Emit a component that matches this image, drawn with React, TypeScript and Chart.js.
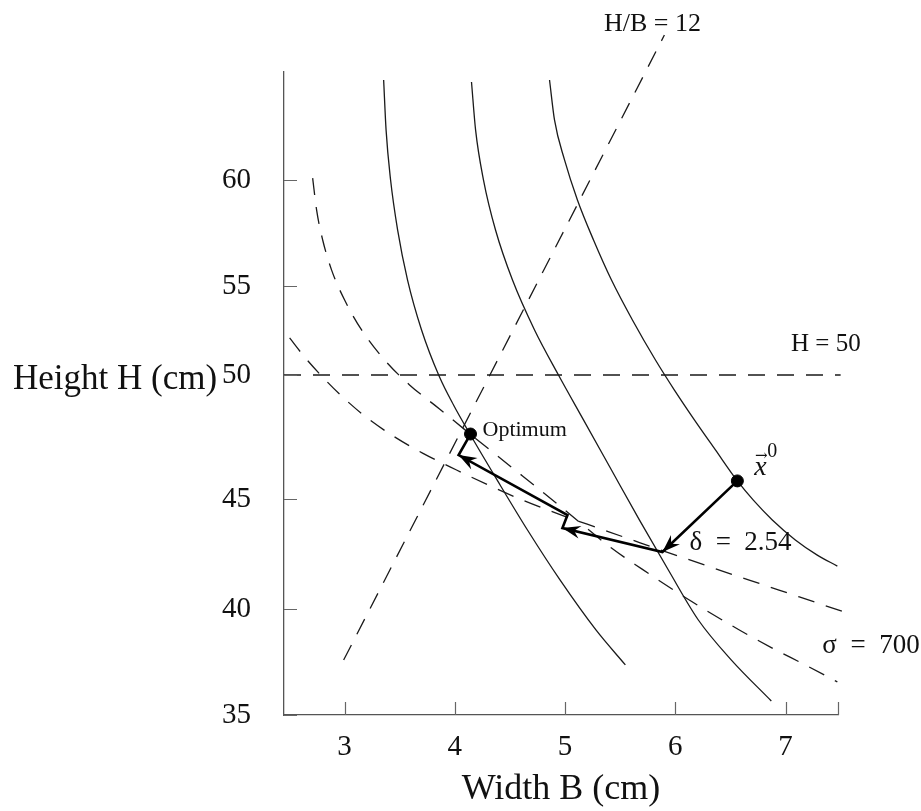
import React, { useEffect, useRef } from 'react';
import { Chart, registerables, LinearScale } from 'chart.js';

// ---------- axes ----------
const X_MIN = 2.45;
const X_MAX = 7.476;
const X_TICKS = [3, 4, 5, 6, 7];
const Y_MIN = 35;
const Y_MAX = 65;
const Y_TICKS = [35, 40, 45, 50, 55, 60];
// the printed height axis is not evenly spaced: knot values and their share of the axis length
const Y_KNOTS = [35, 40, 45, 50, 55, 60, 65];
const Y_KNOT_FRAC = [0, 0.1649, 0.3359, 0.5288, 0.6672, 0.832, 1];

// ---------- solid contours ----------
const C1_B = [3.354, 3.376, 3.417, 3.481, 3.571, 3.698, 3.857, 3.988, 4.142, 4.383, 4.659, 4.954, 5.28, 5.547];
const C1_H = [64.63, 62.32, 60.0, 57.64, 55.28, 52.53, 49.96, 48.79, 47.58, 45.77, 43.59, 41.32, 39.01, 37.36];

const C2_B = [4.151, 4.188, 4.26, 4.369, 4.523, 4.723, 4.94, 5.167, 5.421, 5.674, 5.937, 6.209, 6.509, 6.871];
const C2_H = [64.54, 62.32, 60.0, 57.64, 55.28, 52.53, 50.0, 48.19, 46.17, 44.05, 41.77, 39.48, 37.59, 35.66];

const C3_B = [4.859, 4.904, 4.995, 5.112, 5.258, 5.421, 5.611, 5.82, 5.992, 6.173, 6.364, 6.563, 6.708, 6.88, 7.089, 7.288, 7.47];
const C3_H = [64.63, 62.78, 60.93, 59.06, 57.17, 55.28, 53.09, 50.84, 49.39, 48.19, 46.98, 45.73, 44.95, 44.05, 43.14, 42.45, 41.95];

// ---------- dashed constraint curves ----------
const D1_B = [2.71, 2.746, 2.801, 2.882, 3.0, 3.154, 3.363, 3.589, 3.861, 4.133, 4.36, 4.614, 4.949, 5.421, 5.702, 6.019, 6.273, 6.581, 6.871, 7.179, 7.47];
const D1_H = [60.09, 58.58, 57.17, 55.75, 54.21, 52.53, 50.84, 49.6, 48.63, 47.64, 46.83, 45.93, 44.7, 42.77, 41.8, 40.75, 39.95, 39.01, 38.18, 37.36, 36.56];

const D2_B = [2.501, 2.637, 2.791, 2.973, 3.181, 3.426, 3.707, 4.015, 4.315, 4.614, 4.967, 5.312, 5.675, 6.037, 6.4, 6.762, 7.125, 7.56];
const D2_H = [52.08, 51.01, 49.96, 49.15, 48.35, 47.58, 46.85, 46.17, 45.54, 44.95, 44.27, 43.66, 43.02, 42.39, 41.77, 41.16, 40.55, 39.81];

const HB_B = [2.991, 5.901];
const HB_H = [37.59, 66.71];

const H50_B = [2.45, 7.5];
const H50_H = [50, 50];

// ---------- search path ----------
const PATH_B = [6.563, 5.883, 4.976, 5.022, 4.034, 4.142];
const PATH_H = [45.73, 42.59, 43.68, 44.27, 46.77, 47.62];
const PATH_TIPS = [1, 2, 4];

const OPT_B = 4.142;
const OPT_H = 47.62;
const X0_B = 6.563;
const X0_H = 45.73;

const SERIF = '"Liberation Serif", "Times New Roman", serif';

function toFrac(v: number): number {
  const k = Y_KNOTS, f = Y_KNOT_FRAC;
  let i = 0;
  if (v >= k[k.length - 1]) i = k.length - 2;
  else if (v > k[0]) { while (v > k[i + 1]) i++; }
  return f[i] + ((v - k[i]) * (f[i + 1] - f[i])) / (k[i + 1] - k[i]);
}
function fromFrac(d: number): number {
  const k = Y_KNOTS, f = Y_KNOT_FRAC;
  let i = 0;
  if (d >= f[f.length - 1]) i = f.length - 2;
  else if (d > f[0]) { while (d > f[i + 1]) i++; }
  return k[i] + ((d - f[i]) * (k[i + 1] - k[i])) / (f[i + 1] - f[i]);
}

class PiecewiseScale extends LinearScale {
  static id = 'piecewise';
  static defaults = {};
  getPixelForValue(value: any) {
    if (value === null || value === undefined || isNaN(value)) return NaN;
    return this.getPixelForDecimal(toFrac(+value));
  }
  getValueForPixel(pixel: number) {
    return fromFrac(this.getDecimalForPixel(pixel));
  }
}

Chart.register(...registerables, PiecewiseScale as any);

const zip = (b: number[], h: number[]) => b.map((x, i) => ({ x, y: h[i] }));

const tickPlugin = {
  id: 'inwardTicks',
  afterDraw(chart: any) {
    const { ctx, chartArea: a, scales } = chart;
    const xs = scales.x, ys = scales.y;
    ctx.save();
    ctx.strokeStyle = '#666';
    ctx.lineWidth = 1.2;
    ctx.beginPath();
    [...X_TICKS, X_MAX].forEach((v) => {
      const px = Math.round(xs.getPixelForValue(v)) + 0.5;
      ctx.moveTo(px, a.bottom);
      ctx.lineTo(px, a.bottom - 13);
    });
    Y_TICKS.forEach((v) => {
      const py = Math.round(ys.getPixelForValue(v)) + 0.5;
      ctx.moveTo(a.left, py);
      ctx.lineTo(a.left + 13, py);
    });
    ctx.stroke();
    ctx.restore();
  },
};

const arrowPlugin = {
  id: 'arrowHeads',
  afterDatasetsDraw(chart: any) {
    const idx = chart.data.datasets.findIndex((d: any) => d.label === 'path');
    if (idx < 0) return;
    const pts = chart.getDatasetMeta(idx).data;
    const { ctx } = chart;
    ctx.save();
    ctx.fillStyle = '#000';
    PATH_TIPS.forEach((i) => {
      const p = pts[i], q = pts[i - 1];
      const ang = Math.atan2(p.y - q.y, p.x - q.x);
      ctx.save();
      ctx.translate(p.x, p.y);
      ctx.rotate(ang);
      ctx.beginPath();
      ctx.moveTo(0, 0);
      ctx.lineTo(-18, -6.5);
      ctx.lineTo(-12, 0);
      ctx.lineTo(-18, 6.5);
      ctx.closePath();
      ctx.fill();
      ctx.restore();
    });
    ctx.restore();
  },
};

const labelPlugin = {
  id: 'labels',
  afterDraw(chart: any) {
    const { ctx, scales } = chart;
    const xs = scales.x, ys = scales.y;
    const P = (b: number, h: number) => [xs.getPixelForValue(b), ys.getPixelForValue(h)];
    ctx.save();
    ctx.fillStyle = '#111';
    ctx.textBaseline = 'alphabetic';

    // y-axis title (horizontal)
    ctx.font = `35px ${SERIF}`;
    ctx.textAlign = 'left';
    ctx.fillText('Height H (cm)', 13, 389);

    // Optimum
    const [ox, oy] = P(OPT_B, OPT_H);
    ctx.font = `22px ${SERIF}`;
    ctx.fillText('Optimum', ox + 12, oy + 2);

    // x0
    const [sx, sy] = P(X0_B, X0_H);
    ctx.font = `italic 28px ${SERIF}`;
    ctx.fillText('x', sx + 17, sy - 6);
    ctx.font = `15px "DejaVu Serif", serif`;
    ctx.textAlign = 'center';
    ctx.fillText('\u2192', sx + 24, sy - 21);
    ctx.textAlign = 'left';
    ctx.font = `20px ${SERIF}`;
    ctx.fillText('0', sx + 30, sy - 24);

    // delta
    const [dx, dy] = P(PATH_B[1], PATH_H[1]);
    ctx.font = `27px ${SERIF}`;
    ctx.fillText('\u03b4  =  2.54', dx + 27, dy - 2);

    // sigma
    const [gx, gy] = P(7.334, 37.92);
    ctx.fillText('\u03c3  =  700', gx, gy);

    // H = 50
    const [hx, hy] = P(H50_B[1], H50_H[1]);
    ctx.font = `25px ${SERIF}`;
    ctx.textAlign = 'right';
    ctx.fillText('H = 50', hx + 20, hy - 24);

    // H/B = 12
    const [tx, ty] = P(HB_B[1], HB_H[1]);
    ctx.font = `26px ${SERIF}`;
    ctx.textAlign = 'center';
    ctx.fillText('H/B = 12', tx - 12, ty - 4);
    ctx.restore();
  },
};

export default function App() {
  const ref = useRef<HTMLCanvasElement | null>(null);
  useEffect(() => {
    if (!ref.current) return;
    const solid = (data: any[]) => ({
      data, showLine: true, borderColor: '#1a1a1a', borderWidth: 1.3, pointRadius: 0,
      cubicInterpolationMode: 'monotone', clip: false as any,
    });
    const dashed = (data: any[]) => ({
      data, showLine: true, borderColor: '#1a1a1a', borderWidth: 1.3, borderDash: [17, 12], pointRadius: 0,
      cubicInterpolationMode: 'monotone', clip: false as any,
    });
    const chart = new Chart(ref.current, {
      type: 'scatter',
      data: {
        datasets: [
          { label: 'dots', data: [{ x: OPT_B, y: OPT_H }, { x: X0_B, y: X0_H }], pointRadius: 6, pointBackgroundColor: '#000', pointBorderColor: '#000', showLine: false },
          { label: 'path', data: zip(PATH_B, PATH_H), showLine: true, borderColor: '#000', borderWidth: 2.6, pointRadius: 0, tension: 0, borderJoinStyle: 'miter' },
          { label: 'c1', ...solid(zip(C1_B, C1_H)) },
          { label: 'c2', ...solid(zip(C2_B, C2_H)) },
          { label: 'c3', ...solid(zip(C3_B, C3_H)) },
          { label: 'd1', ...dashed(zip(D1_B, D1_H)) },
          { label: 'd2', ...dashed(zip(D2_B, D2_H)) },
          { label: 'hb', ...dashed(zip(HB_B, HB_H)), cubicInterpolationMode: 'default', tension: 0 },
          { label: 'h50', ...dashed(zip(H50_B, H50_H)), cubicInterpolationMode: 'default', tension: 0 },
        ],
      } as any,
      options: {
        responsive: false,
        animation: false,
        layout: { padding: { top: 72, right: 83, left: 0, bottom: 0 } },
        plugins: { legend: { display: false }, tooltip: { enabled: false } },
        scales: {
          x: {
            type: 'linear',
            position: 'bottom',
            min: X_MIN,
            max: X_MAX,
            grid: { display: false, drawTicks: false },
            border: { display: true, color: '#555', width: 1.3 },
            ticks: { color: '#111', font: { family: SERIF, size: 29 }, padding: 15 },
            title: { display: true, text: 'Width B (cm)', color: '#111', font: { family: SERIF, size: 36 }, padding: { top: 0, bottom: 0 } },
            afterBuildTicks: (s: any) => { s.ticks = X_TICKS.map((value) => ({ value })); },
            afterFit: (s: any) => { s.height = 96; },
          },
          y: {
            type: 'piecewise' as any,
            position: 'left',
            min: Y_MIN,
            max: Y_MAX,
            grid: { display: false, drawTicks: false },
            border: { display: true, color: '#555', width: 1.3 },
            ticks: { color: '#111', font: { family: SERIF, size: 29 }, padding: 33 },
            afterBuildTicks: (s: any) => { s.ticks = Y_TICKS.map((value) => ({ value })); },
            afterFit: (s: any) => { s.width = 284; },
          },
        },
      } as any,
      plugins: [tickPlugin, arrowPlugin, labelPlugin],
    });
    return () => chart.destroy();
  }, []);
  return (
    <div style={{ position: 'fixed', left: 0, top: 0, width: 921, height: 811, background: '#fff' }}>
      <canvas ref={ref} width={921} height={811} style={{ display: 'block' }} />
    </div>
  );
}
